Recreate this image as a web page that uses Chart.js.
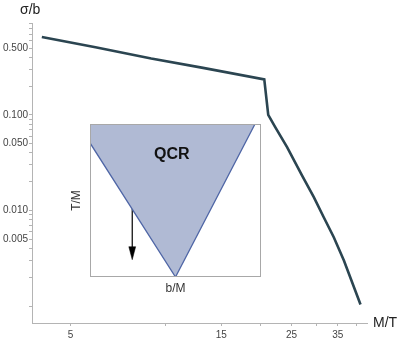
<!DOCTYPE html>
<html>
<head>
<meta charset="utf-8">
<script src="https://cdn.jsdelivr.net/npm/chart.js@4.4.0/dist/chart.umd.min.js"></script>
<style>
  html, body { margin: 0; padding: 0; background: #fff; }
  #wrap { position: relative; width: 399px; height: 341px; }
  #main { position: absolute; left: 0; top: 0; }
  #inset { position: absolute; left: 62px; top: 114px; }
</style>
</head>
<body>
<div id="wrap">
  <canvas id="main" width="399" height="341"></canvas>
  <canvas id="inset" width="207" height="190"></canvas>
</div>
<script>
// main curve (log-log)
const massRatio  = [4.06, 6, 9, 13, 20.5, 21.1, 22.2, 24.2, 27.0, 29.4, 31.6, 34.0, 36.6, 41.3];
const sigmaRatio = [0.652, 0.51, 0.388, 0.312, 0.235, 0.100, 0.0745, 0.046, 0.0232, 0.0138, 0.0085, 0.00525, 0.00299, 0.00104];

// ticks
const xMajor = [5, 15, 25, 35];
const xLabels = ['5', '15', '25', '35'];
const xMinor = [10, 20, 30, 40];
const yMajor = [0.5, 0.1, 0.05, 0.01, 0.005];
const yLabels = ['0.500', '0.100', '0.050', '0.010', '0.005'];
const yMinor = [0.9, 0.8, 0.7, 0.6, 0.4, 0.3, 0.2, 0.09, 0.08, 0.07, 0.06, 0.04, 0.03, 0.02,
                0.009, 0.008, 0.007, 0.006, 0.004, 0.003, 0.002, 0.001];
const xName = 'M/T';
const yName = 'σ/b';

// inset (unit box)
const qcrEdgeX = [0, 0.50, 0.965];
const qcrEdgeY = [0.876, 0, 1];
const arrowX = [0.247, 0.247];
const arrowY = [0.625, 0.16];
const arrowHeadX = [0.227, 0.247, 0.267, 0.227];
const arrowHeadY = [0.198, 0.113, 0.198, 0.198];
const insetLabel = 'QCR';
const insetXName = 'b/M';
const insetYName = 'T/M';

Chart.defaults.font.family = '"Liberation Sans", Arial, sans-serif';
Chart.defaults.color = '#444';

const axisGray = '#b4b4b4';
const pts = (xs, ys) => xs.map((x, i) => ({ x: x, y: ys[i] }));

const axisNames = {
  id: 'axisNames',
  afterDraw(chart) {
    const { ctx, chartArea } = chart;
    ctx.save();
    ctx.font = '14px "Liberation Sans", Arial, sans-serif';
    ctx.fillStyle = '#222';
    ctx.textBaseline = 'middle';
    ctx.textAlign = 'left';
    ctx.fillText(yName, chartArea.left - 12, 10);
    ctx.fillText(xName, chartArea.right + 6, chartArea.bottom);
    ctx.restore();
  }
};

const mainChart = new Chart(document.getElementById('main'), {
  type: 'scatter',
  data: {
    datasets: [{
      data: pts(massRatio, sigmaRatio),
      showLine: true,
      borderColor: '#2b4551',
      borderWidth: 2.6,
      pointRadius: 0,
      tension: 0,
      clip: false
    }]
  },
  options: {
    responsive: false,
    animation: false,
    layout: { padding: { top: 23, right: 32, left: 0, bottom: 0 } },
    plugins: { legend: { display: false }, tooltip: { enabled: false } },
    scales: {
      x: {
        type: 'logarithmic',
        min: 3.78,
        max: 43.3,
        afterFit: (s) => { s.height = 18; },
        afterBuildTicks: (s) => { s.ticks = [...xMajor, ...xMinor].map(v => ({ value: v })); },
        border: { color: axisGray },
        grid: { drawOnChartArea: false, tickLength: 3, tickColor: axisGray },
        ticks: {
          autoSkip: false, maxRotation: 0, padding: 3,
          font: { size: 10 },
          callback: (v) => { const i = xMajor.indexOf(v); return i >= 0 ? xLabels[i] : ''; }
        }
      },
      y: {
        type: 'logarithmic',
        min: 0.000665,
        max: 0.914,
        afterFit: (s) => { s.width = 32; },
        afterBuildTicks: (s) => { s.ticks = [...yMajor, ...yMinor].map(v => ({ value: v })); },
        border: { color: axisGray },
        grid: { drawOnChartArea: false, tickLength: 3, tickColor: axisGray },
        ticks: {
          autoSkip: false, padding: 1,
          font: { size: 10 },
          callback: (v) => { const i = yMajor.indexOf(v); return i >= 0 ? yLabels[i] : ''; }
        }
      }
    }
  },
  plugins: [axisNames]
});

const insetDeco = {
  id: 'insetDeco',
  afterDraw(chart) {
    const { ctx, chartArea, scales } = chart;
    ctx.save();
    ctx.strokeStyle = '#a8a8a8';
    ctx.lineWidth = 1;
    ctx.strokeRect(chartArea.left + 0.5, chartArea.top + 0.5, chartArea.width - 1, chartArea.height - 1);
    ctx.font = 'bold 16px "Liberation Sans", Arial, sans-serif';
    ctx.fillStyle = '#111';
    ctx.textAlign = 'center';
    ctx.textBaseline = 'middle';
    ctx.fillText(insetLabel, scales.x.getPixelForValue(0.478), scales.y.getPixelForValue(0.8));
    ctx.restore();
  }
};

const insetChart = new Chart(document.getElementById('inset'), {
  type: 'scatter',
  data: {
    datasets: [
      {
        data: pts(qcrEdgeX, qcrEdgeY),
        showLine: true,
        borderColor: '#4f66a6',
        borderWidth: 1.3,
        backgroundColor: '#b0bad4',
        fill: 'end',
        pointRadius: 0
      },
      {
        data: pts(arrowX, arrowY),
        showLine: true,
        borderColor: '#000',
        borderWidth: 1.2,
        pointRadius: 0
      },
      {
        data: pts(arrowHeadX, arrowHeadY),
        showLine: true,
        borderColor: '#000',
        borderWidth: 0.5,
        backgroundColor: '#000',
        fill: 'shape',
        pointRadius: 0
      }
    ]
  },
  options: {
    responsive: false,
    animation: false,
    layout: { padding: { top: 10, right: 8, left: 6, bottom: 5 } },
    plugins: { legend: { display: false }, tooltip: { enabled: false } },
    scales: {
      x: {
        type: 'linear', min: 0, max: 1,
        afterFit: (s) => { s.height = 22; },
        grid: { display: false, drawTicks: false },
        border: { display: false },
        ticks: { display: false },
        title: { display: true, text: insetXName, font: { size: 12 }, color: '#333', padding: { top: 0, bottom: 3 } }
      },
      y: {
        type: 'linear', min: 0, max: 1,
        afterFit: (s) => { s.width = 22; },
        grid: { display: false, drawTicks: false },
        border: { display: false },
        ticks: { display: false },
        title: { display: true, text: insetYName, font: { size: 12 }, color: '#333', padding: { top: 1.5, bottom: 0 } }
      }
    }
  },
  plugins: [insetDeco]
});
</script>
</body>
</html>
